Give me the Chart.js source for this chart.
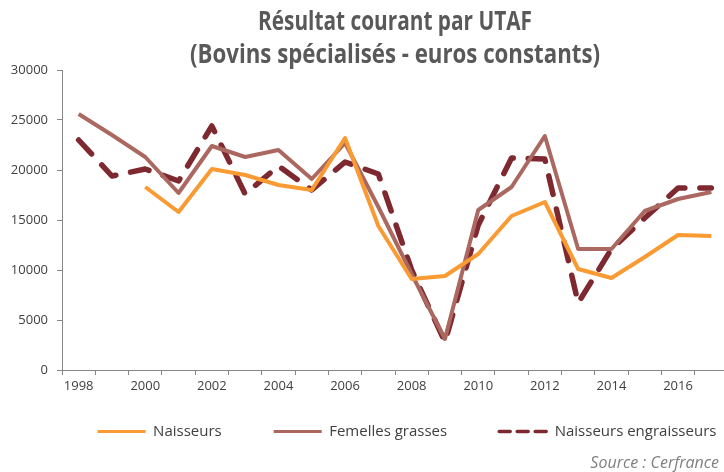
<!DOCTYPE html>
<html lang="fr">
<head>
<meta charset="utf-8">
<title>Résultat courant par UTAF</title>
<script src="https://cdn.jsdelivr.net/npm/chart.js@4"></script>
<style>
  html, body { margin: 0; padding: 0; background: #fff; }
  #frame { position: relative; width: 724px; height: 472px; overflow: hidden; }
  #wrap { position: absolute; left: 0; top: 0; width: 820px; height: 472px; }
  #source {
    position: absolute; right: 5px; top: 451px;
    font: italic 16px 'Open Sans', sans-serif; color: #7f7f7f;
    line-height: 22px;
  }
</style>
</head>
<body>
<div id="frame">
  <div id="wrap"><canvas id="chart"></canvas></div>
  <div id="source">Source : Cerfrance</div>
</div>
<script>
// Data
const years = ['1998', '1999', '2000', '2001', '2002', '2003', '2004', '2005', '2006', '2007',
               '2008', '2009', '2010', '2011', '2012', '2013', '2014', '2015', '2016', '2017'];
const naisseurs = [null, null, 18300, 15800, 20100, 19500, 18500, 18000, 23200, 14400,
                   9100, 9400, 11600, 15400, 16800, 10100, 9200, 11300, 13500, 13400];
const femellesGrasses = [25600, 23500, 21300, 17700, 22400, 21300, 22000, 19100, 22700, 16300,
                         9600, 3100, 16000, 18300, 23400, 12100, 12100, 15900, 17100, 17800];
const naisseursEngraisseurs = [23000, 19400, 20100, 18900, 24400, 17600, 20400, 18000, 20800, 19600,
                               10000, 2800, 14500, 21200, 21100, 6700, 12100, 15200, 18200, 18200];
const titleLines = ['Résultat courant par UTAF', '(Bovins spécialisés - euros constants)'];

const colors = {
    orange: '#F99A33',
    rose: '#AB6861',
    bordeaux: '#7E2830',
    axis: '#868686',
    text: '#404040',
    title: '#595959'
};
const font = "'Open Sans', sans-serif";

// Two-line title centred over the plot area, condensed like the original
const titlePlugin = {
    id: 'twoLineTitle',
    afterDraw(chart) {
        const { ctx, chartArea } = chart;
        const cx = (chartArea.left + chartArea.right) / 2;
        const rows = [[titleLines[0], 22, 274], [titleLines[1], 55, 410]];
        ctx.save();
        ctx.fillStyle = colors.title;
        ctx.font = `bold 27px ${font}`;
        ctx.textAlign = 'center';
        ctx.textBaseline = 'middle';
        rows.forEach(([txt, y, target]) => {
            const w = ctx.measureText(txt).width;
            const sx = Math.min(1, target / w);
            ctx.save();
            ctx.translate(cx, y);
            ctx.scale(sx, 1);
            ctx.fillText(txt, 0, 0);
            ctx.restore();
        });
        ctx.restore();
    }
};

// Move the legend box a little: wide item gaps but sitting close to the axis
const legendNudge = {
    id: 'legendNudge',
    afterLayout(chart) {
        const lg = chart.legend;
        lg.top -= 26; lg.bottom -= 26;
        lg.left += 43; lg.right += 43;
    }
};

new Chart(document.getElementById('chart'), {
    type: 'line',
    data: {
        labels: years,
        datasets: [
            {
                label: 'Naisseurs',
                data: naisseurs,
                borderColor: colors.orange,
                backgroundColor: colors.orange,
                borderWidth: 4,
                pointRadius: 0,
                tension: 0,
                borderJoinStyle: 'round'
            },
            {
                label: 'Femelles grasses',
                data: femellesGrasses,
                borderColor: colors.rose,
                backgroundColor: colors.rose,
                borderWidth: 4,
                pointRadius: 0,
                tension: 0,
                borderJoinStyle: 'round'
            },
            {
                label: 'Naisseurs engraisseurs',
                data: naisseursEngraisseurs,
                borderColor: colors.bordeaux,
                backgroundColor: colors.bordeaux,
                borderWidth: 5.5,
                borderDash: [19, 15],
                borderCapStyle: 'round',
                borderJoinStyle: 'round',
                pointRadius: 0,
                tension: 0
            }
        ]
    },
    options: {
        responsive: true,
        maintainAspectRatio: false,
        animation: false,
        layout: { padding: { top: 70, left: 0, right: 92, bottom: 0 } },
        plugins: {
            title: { display: false },
            tooltip: { enabled: false },
            legend: {
                position: 'bottom',
                maxHeight: 74,
                labels: {
                    usePointStyle: true,
                    pointStyle: 'line',
                    pointStyleWidth: 48,
                    padding: 52,
                    color: colors.text,
                    font: { family: font, size: 15 },
                    generateLabels(chart) {
                        const items = Chart.defaults.plugins.legend.labels.generateLabels(chart);
                        items.forEach((it, i) => {
                            it.pointStyle = 'line';
                            if (i === 2) {
                                it.lineWidth = 3.5;
                                it.lineDash = [11, 7];
                                it.lineCap = 'round';
                            } else {
                                it.lineWidth = 3;
                            }
                        });
                        return items;
                    }
                }
            }
        },
        scales: {
            x: {
                offset: true,
                afterFit(axis) { axis.height = 28; },
                border: { color: colors.axis, width: 1 },
                grid: { offset: true, drawOnChartArea: false, drawTicks: true, tickLength: 5, color: colors.axis },
                ticks: {
                    autoSkip: false,
                    maxRotation: 0,
                    padding: 3,
                    color: colors.text,
                    font: { family: font, size: 13 },
                    callback(value, index) {
                        return index % 2 === 0 ? this.getLabelForValue(value) : '';
                    }
                }
            },
            y: {
                min: 0,
                max: 30000,
                afterFit(axis) { axis.width = 62; },
                border: { color: colors.axis, width: 1 },
                grid: { drawOnChartArea: false, drawTicks: true, tickLength: 5, color: colors.axis },
                ticks: {
                    stepSize: 5000,
                    padding: 9,
                    color: colors.text,
                    font: { family: font, size: 13 },
                    callback: value => String(value)
                }
            }
        }
    },
    plugins: [titlePlugin, legendNudge]
});
</script>
</body>
</html>
